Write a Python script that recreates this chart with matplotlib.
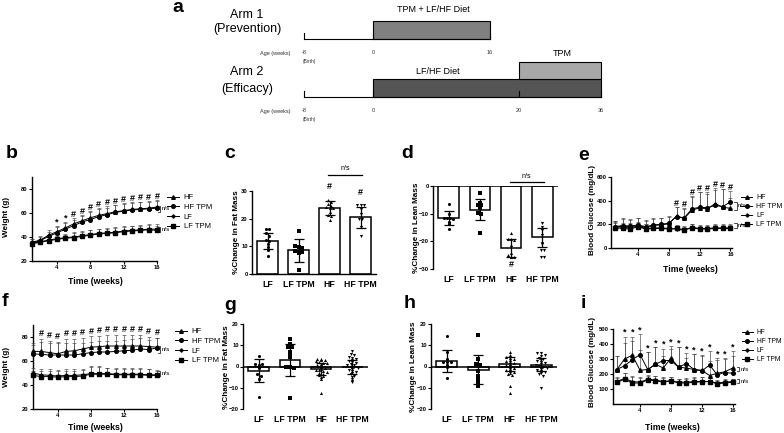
import numpy as np
import matplotlib
matplotlib.use("Agg")
from matplotlib import pyplot as plt
from matplotlib.lines import Line2D
from matplotlib.patches import Rectangle

plt.rcParams['font.family'] = ['Liberation Sans', 'DejaVu Sans']

W, H = 784, 433

# ---------------- data ----------------
weeks = np.arange(1, 17)
groups = ["HF", "HF TPM", "LF", "LF TPM"]
bar_groups = ["LF", "LF TPM", "HF", "HF TPM"]

# panel a schematic (weeks)
arm1_ticks = [-8, 0, 16]
arm2_ticks = [-8, 0, 20, 36]
arm1_diet = (0, 16)
arm2_diet = (0, 36)
arm2_tpm = (20, 36)

# b: weight, prevention
b_hf = [35.5, 37.5, 41.5, 44.5, 47.5, 51, 53.5, 56, 58, 59.5, 61, 62, 63, 63.5, 64, 65]
b_hf_tpm = [35, 37, 40.5, 43.5, 46.5, 49.5, 52.5, 54.5, 57, 58.5, 60.5, 61.5, 62.5, 63, 63.5, 64]
b_lf = [35, 36, 37.5, 38.5, 39.5, 40, 41, 42, 43, 43.5, 44, 45, 45.5, 46, 46.5, 46.5]
b_lf_tpm = [34.5, 35.5, 37, 38, 39, 39.5, 40.5, 41.5, 42.5, 43, 43.5, 44.5, 45, 45.5, 46, 45.5]
b_err_hf = [3, 3, 4, 5, 5, 5, 5, 6, 6, 6, 6, 6, 6, 6, 6, 6]
b_err_lf = [2, 2, 3, 3, 3, 4, 4, 4, 4, 4, 4, 4, 4, 4, 4, 4]
b_marks = ["", "", "", "*", "*", "#", "#", "#", "#", "#", "#", "#", "#", "#", "#", "#"]

# c: % change fat mass, prevention
c_mean = [12, 8.5, 24, 20.5]
c_sd = [2.8, 4.0, 2.5, 3.8]
c_lf = [16.1, 16.1, 14.9, 13.9, 12.4, 11.9, 11.0, 9.8, 8.6, 6.4]
c_lf_tpm = [15.6, 10.0, 9.8, 9.4, 8.2, 8.0, 8.0, 7.5, 1.4]
c_hf = [26.8, 26.0, 25.2, 24.6, 24.3, 24.0, 23.8, 22.5, 21.5, 21.0, 19.5]
c_hf_tpm = [24.9, 24.9, 24.9, 23.5, 21.7, 19.9, 19.9, 17.0, 13.6]
c_marks = ["", "", "#", "#"]

# d: % change lean mass, prevention
d_mean = [-11.5, -8.5, -22.5, -18.5]
d_sd = [2.5, 3.8, 3.2, 3.5]
d_lf = [-6.5, -10.0, -11.5, -11.5, -11.7, -12.0, -13.0, -13.9, -15.5]
d_lf_tpm = [-2.4, -6.0, -6.9, -6.9, -8.1, -9.7, -10.0, -17.1]
d_hf = [-17.1, -19.3, -19.3, -19.5, -21.3, -24.3, -25.0, -25.5, -25.5, -25.8]
d_hf_tpm = [-13.5, -14.9, -15.9, -17.7, -20.7, -21.0, -23.0, -23.0, -25.5, -25.5]

# e: blood glucose, prevention
e_hf = [175, 185, 180, 190, 175, 190, 195, 205, 270, 250, 320, 340, 330, 375, 345, 335]
e_hf_tpm = [180, 190, 185, 195, 180, 195, 200, 210, 265, 255, 330, 345, 340, 360, 350, 390]
e_lf = [180, 175, 170, 185, 165, 170, 170, 165, 160, 150, 175, 165, 165, 170, 170, 170]
e_lf_tpm = [170, 165, 160, 180, 160, 165, 165, 160, 165, 155, 170, 160, 160, 165, 165, 165]
e_err_hf = [50, 60, 60, 60, 55, 55, 55, 60, 80, 80, 110, 130, 130, 130, 150, 90]
e_err_lf = [40, 35, 40, 35, 40, 35, 40, 40, 30, 30, 30, 30, 30, 30, 30, 30]
e_marks = [""] * 8 + ["#"] * 8

# f: weight, efficacy
f_hf = [68, 68, 67, 66, 68, 68.5, 70, 71.5, 72, 72.5, 72.5, 72.5, 72.5, 72.5, 72, 71.5]
f_hf_tpm = [66, 65.5, 65, 65, 65, 65, 66, 67, 67.5, 67.5, 68, 68.5, 69, 70, 69.5, 71]
f_lf = [50, 48.5, 48, 47.5, 48, 48, 48.5, 49.5, 49.5, 49.5, 49, 49, 49, 49, 48.5, 48.5]
f_lf_tpm = [48, 47, 47, 46.5, 47, 47, 47.5, 49, 49, 49, 48.5, 48.5, 48.5, 48.5, 48, 48]
f_err_hf = [7, 10, 10, 10, 10, 10, 9, 9, 9, 9, 9, 9, 9, 9, 8, 8]
f_err_lf = [4, 5, 5, 5, 5, 5, 5, 6, 6, 5, 5, 5, 5, 5, 5, 4]
f_marks = [""] + ["#"] * 15

# g: % change fat mass, efficacy
g_mean = [-2, 3, -1.3, -0.3]
g_sd = [5.5, 7.5, 2.8, 3.2]
g_lf = [5.1, 1.1, 0.8, 1.1, -0.5, -3.7, -4.4, -6.0, -14.2]
g_lf_tpm = [13.0, 10.6, 9.0, 9.0, 6.7, 5.0, 4.3, 0.0, 0.0, -0.5, -14.8]
g_hf = [3.6, 3.4, 3.2, 3.0, 2.5, 2.2, 1.8, 1.5, 1.0, 0.5, 0.0, -0.5, -1.0, -1.5,
        -1.8, -2.2, -2.5, -3.0, -3.4, -4.0, -4.5, -5.0, -6.0, -12.3]
g_hf_tpm = [7.2, 6.0, 5.5, 4.5, 4.0, 3.5, 3.0, 2.5, 2.0, 1.5, 1.0, 0.8, 0.5, 0.0,
            -0.3, -0.5, -1.0, -1.5, -2.0, -2.5, -3.0, -3.5, -4.5, -5.0, -6.0, -7.0, -7.5]

# h: % change lean mass, efficacy
h_mean = [2.7, -1.5, 1.3, 0.8]
h_sd = [5.3, 6.7, 3.2, 3.0]
h_lf = [14.3, 7.0, 3.5, 2.2, 2.2, 1.9, 0.6, 0.0, -5.2]
h_lf_tpm = [14.6, 3.5, 1.1, 0.6, -2.0, -4.4, -5.2, -7.3, -8.0, -9.2]
h_hf = [7.0, 5.5, 4.5, 4.0, 3.5, 3.0, 2.5, 2.0, 1.5, 1.0, 0.5, 0.0, -0.5, -1.0,
        -1.5, -2.0, -2.5, -3.0, -3.5, -4.0, -9.0, -12.3]
h_hf_tpm = [6.5, 6.5, 5.5, 5.0, 4.0, 3.5, 3.0, 2.5, 2.0, 1.5, 1.0, 0.5, 0.3, 0.0,
            -0.5, -1.0, -1.5, -2.0, -2.5, -3.0, -3.5, -4.5, -10.0]

# i: blood glucose, efficacy
i_hf = [230, 300, 325, 225, 230, 265, 240, 305, 245, 240, 230, 225, 190, 205, 215, 240]
i_hf_tpm = [230, 255, 295, 330, 230, 265, 290, 290, 245, 270, 230, 220, 260, 195, 210, 205]
i_lf = [150, 170, 150, 145, 165, 160, 150, 155, 145, 145, 150, 150, 150, 140, 145, 150]
i_lf_tpm = [145, 165, 140, 140, 160, 155, 145, 155, 140, 140, 145, 148, 150, 135, 140, 145]
i_err_hf = [90, 150, 125, 135, 115, 115, 80, 80, 135, 70, 105, 100, 95, 100, 90, 115]
i_err_lf = [30, 40, 40, 35, 30, 30, 30, 25, 25, 30, 30, 30, 25, 20, 20, 20]
i_marks = [""] + ["*"] * 15

markers = {"HF": "^", "HF TPM": "o", "LF": (4, 1, 0), "LF TPM": "s"}
bar_markers = ["o", "s", "^", "v"]

fig = plt.figure(figsize=(W / 100, H / 100), dpi=100)


def px(x, y):
    return x / W, 1 - y / H


def add_ax(left, top, right, bottom):
    return fig.add_axes([left / W, 1 - bottom / H, (right - left) / W, (bottom - top) / H])


def style(ax):
    for s in ["top", "right"]:
        ax.spines[s].set_visible(False)
    for s in ["left", "bottom"]:
        ax.spines[s].set_linewidth(1.0)
    ax.tick_params(length=2, width=0.8, labelsize=4.2, pad=1)
    for lab in ax.get_yticklabels() + ax.get_xticklabels():
        lab.set_fontweight("bold")


def bracket(ax, x, y0, y1, dx):
    ax.plot([x - dx, x, x, x - dx], [y1, y1, y0, y0], color="black", lw=0.5, clip_on=False)
    ax.text(x + dx * 0.6, (y0 + y1) / 2, "n/s", fontsize=4.5, va="center", ha="left")


def line_panel(ax, series, err_hi, err_lo, marks, mark_off, xlim, ylim, yticks):
    for name, vals in zip(groups, series):
        err = err_hi if name.startswith("HF") else err_lo
        ax.errorbar(weeks, vals, yerr=[np.zeros(len(err)), err], color="black",
                    marker=markers[name], ms=2.6, lw=0.7, elinewidth=0.45,
                    ecolor="#444444", capsize=1.3, capthick=0.45, clip_on=False, zorder=3)
    top = np.maximum(series[0], series[1]) + np.asarray(err_hi)
    for w, t, m in zip(weeks, top, marks):
        if m:
            ax.text(w, t + mark_off, m, ha="center", va="center", fontsize=6.5, fontweight="bold")
    ax.set_xlim(*xlim)
    ax.set_ylim(*ylim)
    ax.set_xticks([4, 8, 12, 16])
    ax.set_yticks(yticks)
    style(ax)


def legend_at(ax, x, y, size=5.5):
    handles = [Line2D([], [], color="black", lw=0.7, marker=markers[g], ms=2.6) for g in groups]
    ax.legend(handles, groups, loc="upper left", bbox_to_anchor=px(x, y),
              bbox_transform=fig.transFigure, frameon=False, fontsize=size,
              handlelength=1.6, handletextpad=0.6, labelspacing=0.3,
              borderpad=0, borderaxespad=0)


def swarm(vals, binsize, step):
    vals = np.asarray(vals, dtype=float)
    off = np.zeros(len(vals))
    bins = np.round(vals / binsize)
    for b in np.unique(bins):
        idx = np.where(bins == b)[0]
        off[idx] = (np.arange(len(idx)) - (len(idx) - 1) / 2) * step
    return off


def bar_panel(ax, mean, sd, points, binsize, step, ylim, yticks, zero_axis=False):
    x = np.arange(4)
    ax.bar(x, mean, width=0.66, color="white", edgecolor="black", lw=1.1, zorder=1)
    for i, pts in enumerate(points):
        off = swarm(pts, binsize, step)
        ax.scatter(x[i] + off, pts, marker=bar_markers[i], s=5, color="black",
                   linewidths=0, zorder=3, clip_on=False)
    ax.errorbar(x, mean, yerr=sd, fmt="none", ecolor="black", elinewidth=0.9,
                capsize=3.5, capthick=0.9, zorder=4)
    ax.set_xlim(-0.5, 3.5)
    ax.set_ylim(*ylim)
    ax.set_yticks(yticks)
    ax.set_xticks(x, bar_groups)
    style(ax)
    ax.tick_params(axis="x", length=0, labelsize=6.3, pad=4)
    if zero_axis:
        ax.spines["bottom"].set_visible(False)
        ax.axhline(0, color="black", lw=1.1, zorder=2)


# ---------------- panel a ----------------
ax_a = fig.add_axes([0, 0, 1, 1])
ax_a.set_xlim(0, W)
ax_a.set_ylim(H, 0)
ax_a.axis("off")
stop_weeks = [-8, 0, 16, 20, 36]
stop_px = [304, 373, 490, 519, 601]


def wx(w):
    return np.interp(w, stop_weeks, stop_px)


def timeline(ticks, base_y):
    ax_a.plot([wx(ticks[0]), wx(ticks[-1])], [base_y, base_y], color="black", lw=0.8)
    for t in ticks:
        ax_a.plot([wx(t), wx(t)], [base_y, base_y - 6], color="black", lw=0.8)
        ax_a.text(wx(t), base_y + 14, str(t), fontsize=4, ha="center", va="center", color="#333333")
    ax_a.text(291, base_y + 14, "Age (weeks)", fontsize=4, ha="right", va="center", color="#333333")
    ax_a.text(wx(ticks[0]) + 5, base_y + 22, "(Birth)", fontsize=3.5, ha="center", va="center", color="#333333")


ax_a.add_patch(Rectangle((wx(arm1_diet[0]), 21), wx(arm1_diet[1]) - wx(arm1_diet[0]), 18,
                         facecolor="#808080", edgecolor="black", lw=0.8))
timeline(arm1_ticks, 39)
ax_a.text(433, 10, "TPM + LF/HF Diet", fontsize=6.5, ha="center", va="center")
ax_a.text(247, 15, "Arm 1", fontsize=9, ha="center", va="center")
ax_a.text(247, 29, "(Prevention)", fontsize=9, ha="center", va="center")

ax_a.add_patch(Rectangle((wx(arm2_diet[0]), 79), wx(arm2_diet[1]) - wx(arm2_diet[0]), 18,
                         facecolor="#555555", edgecolor="black", lw=0.8))
ax_a.add_patch(Rectangle((wx(arm2_tpm[0]), 62), wx(arm2_tpm[1]) - wx(arm2_tpm[0]), 17,
                         facecolor="#a8a8a8", edgecolor="black", lw=0.8))
timeline(arm2_ticks, 97)
ax_a.text(438, 72, "LF/HF Diet", fontsize=6.5, ha="center", va="center")
ax_a.text(562, 53, "TPM", fontsize=6.5, ha="center", va="center")
ax_a.text(247, 72, "Arm 2", fontsize=9, ha="center", va="center")
ax_a.text(247, 89, "(Efficacy)", fontsize=9, ha="center", va="center")

# ---------------- panel b ----------------
ax_b = add_ax(32, 177, 157, 261)
line_panel(ax_b, [b_hf, b_hf_tpm, b_lf, b_lf_tpm], b_err_hf, b_err_lf, b_marks, 3,
           (1, 16), (20, 90), [20, 40, 60, 80])
bracket(ax_b, 16.4, 61, 66, 0.25)
bracket(ax_b, 16.4, 44, 48, 0.25)
legend_at(ax_b, 167, 194)

# ---------------- panel c ----------------
ax_c = add_ax(252, 191, 376, 274)
bar_panel(ax_c, c_mean, c_sd, [c_lf, c_lf_tpm, c_hf, c_hf_tpm], 1.2, 0.1, (0, 30), [0, 10, 20, 30])
for i, m in enumerate(c_marks):
    if m:
        ax_c.text(i, c_mean[i] + c_sd[i] + 5, m, ha="center", va="center", fontsize=6.5, fontweight="bold")
ax_c.plot([1.95, 3.05], [35.8, 35.8], color="black", lw=0.9, clip_on=False)
ax_c.text(2.5, 38, "n/s", ha="center", va="center", fontsize=5)

# ---------------- panel d ----------------
ax_d = add_ax(433, 186, 558, 269)
bar_panel(ax_d, d_mean, d_sd, [d_lf, d_lf_tpm, d_hf, d_hf_tpm], 1.2, 0.1, (-30, 0),
          [-30, -20, -10, 0], zero_axis=True)
ax_d.text(2, -28.3, "#", ha="center", va="center", fontsize=6.5, fontweight="bold")
ax_d.plot([1.95, 3.05], [1.4, 1.4], color="black", lw=0.9, clip_on=False)
ax_d.text(2.5, 3.4, "n/s", ha="center", va="center", fontsize=5)

# ---------------- panel e ----------------
ax_e = add_ax(611, 177, 732, 248)
line_panel(ax_e, [e_hf, e_hf_tpm, e_lf, e_lf_tpm], e_err_hf, e_err_lf, e_marks, 30,
           (0.5, 16.2), (0, 600), [0, 200, 400, 600])
bracket(ax_e, 16.8, 322, 392, 0.3)
bracket(ax_e, 16.8, 170, 215, 0.3)
legend_at(ax_e, 741, 194, size=5)

# ---------------- panel f ----------------
ax_f = add_ax(33, 325, 157, 409)
line_panel(ax_f, [f_hf, f_hf_tpm, f_lf, f_lf_tpm], f_err_hf, f_err_lf, f_marks, 4.5,
           (1, 16), (20, 90), [20, 40, 60, 80])
bracket(ax_f, 16.4, 67, 72.5, 0.25)
bracket(ax_f, 16.4, 47.5, 51.7, 0.25)
legend_at(ax_f, 175, 328)

# ---------------- panel g ----------------
ax_g = add_ax(243, 324, 368, 409)
bar_panel(ax_g, g_mean, g_sd, [g_lf, g_lf_tpm, g_hf, g_hf_tpm], 1.0, 0.12, (-20, 20),
          [-20, -10, 0, 10, 20], zero_axis=True)

# ---------------- panel h ----------------
ax_h = add_ax(431, 324, 557, 409)
bar_panel(ax_h, h_mean, h_sd, [h_lf, h_lf_tpm, h_hf, h_hf_tpm], 1.0, 0.12, (-20, 20),
          [-20, -10, 0, 10, 20], zero_axis=True)

# ---------------- panel i ----------------
ax_i = add_ax(613, 329, 735, 404)
line_panel(ax_i, [i_hf, i_hf_tpm, i_lf, i_lf_tpm], i_err_hf, i_err_lf, i_marks, 28,
           (0.5, 16.3), (0, 500), [100, 200, 300, 400, 500])
bracket(ax_i, 16.8, 217, 246, 0.3)
bracket(ax_i, 16.8, 140, 166, 0.3)
legend_at(ax_i, 742, 329, size=4.8)

# ---------------- labels ----------------
for letter, (x, y) in {"a": (178, 8), "b": (12, 153), "c": (230, 153), "d": (407, 153),
                       "e": (584, 155), "f": (5, 302), "g": (230, 305), "h": (410, 303),
                       "i": (583, 303)}.items():
    fig.text(*px(x, y), letter, fontsize=14, fontweight="bold", ha="center", va="center")

ylabels = [("Weight (g)", 7, 217), ("%Change in Fat Mass", 236, 232),
           ("%Change in Lean Mass", 416, 228), ("Blood Glucose (mg/dL)", 592, 210),
           ("Weight (g)", 7, 367), ("%Change in Fat Mass", 226, 367),
           ("%Change in Lean Mass", 414, 367), ("Blood Glucose (mg/dL)", 592, 362)]
for txt, x, y in ylabels:
    fig.text(*px(x, y), txt, rotation=90, fontsize=5.9, fontweight="bold", ha="center", va="center")

for x, y in [(95, 281), (690, 270), (95, 427), (672, 427)]:
    fig.text(*px(x, y), "Time (weeks)", fontsize=6.3, fontweight="bold", ha="center", va="center")

fig.savefig("out.png", dpi=100)
